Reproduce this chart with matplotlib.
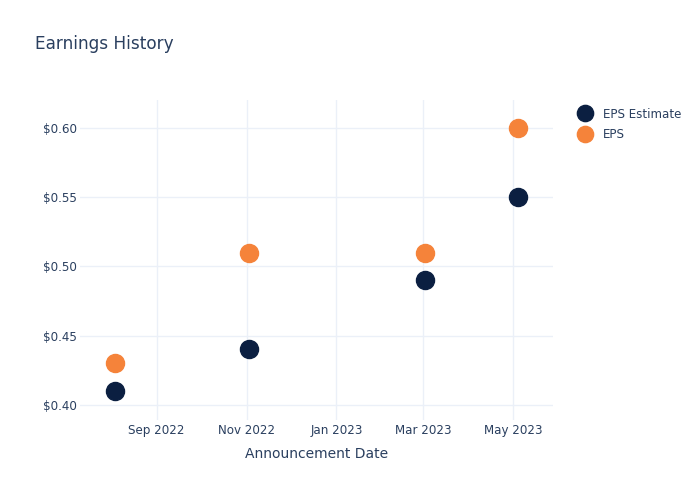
import matplotlib.pyplot as plt
import matplotlib.dates as mdates
import matplotlib.ticker as mticker
import numpy as np

# announcement dates and values
dates = np.array(['2022-08-04', '2022-11-03', '2023-03-02', '2023-05-04'], dtype='datetime64[D]')
eps_estimate = [0.41, 0.44, 0.49, 0.55]
eps_actual = [0.43, 0.51, 0.51, 0.60]

txt = '#2a3f5f'
grid = '#ebf0f8'

fig = plt.figure(figsize=(7, 5), dpi=100)
ax = fig.add_axes([80 / 700, 80 / 500, 473 / 700, 320 / 500])

ax.plot(dates, eps_estimate, 'o', color='#0b1f41', markersize=13, label='EPS Estimate', zorder=3)
ax.plot(dates, eps_actual, 'o', color='#f5833a', markersize=13, label='EPS', zorder=3)

ax.set_xlim(np.datetime64('2022-07-11'), np.datetime64('2023-05-28'))
ax.set_ylim(0.389, 0.6202)

ax.xaxis.set_major_locator(mdates.MonthLocator(bymonth=[1, 3, 5, 9, 11]))
ax.xaxis.set_major_formatter(mdates.DateFormatter('%b %Y'))
ax.yaxis.set_major_locator(mticker.MultipleLocator(0.05))
ax.yaxis.set_major_formatter(mticker.FuncFormatter(lambda v, p: f'${v:.2f}'))

ax.grid(True, color=grid, linewidth=1)
ax.set_axisbelow(True)
for s in ax.spines.values():
    s.set_visible(False)
ax.tick_params(length=0, colors=txt, labelsize=8.6, pad=3)
ax.tick_params(axis='y', pad=2)

ax.set_xlabel('Announcement Date', fontsize=10, color=txt, labelpad=7)
fig.text(35 / 700, 1 - 44 / 500, 'Earnings History', fontsize=12.2, color=txt, va='center')

leg = ax.legend(loc='upper left', bbox_to_anchor=(1.03, 1.01), frameon=False,
                fontsize=8.6, labelcolor=txt, handletextpad=0.9, labelspacing=0.6,
                handlelength=1.2, markerscale=0.9)

plt.savefig('out.png', dpi=100)
